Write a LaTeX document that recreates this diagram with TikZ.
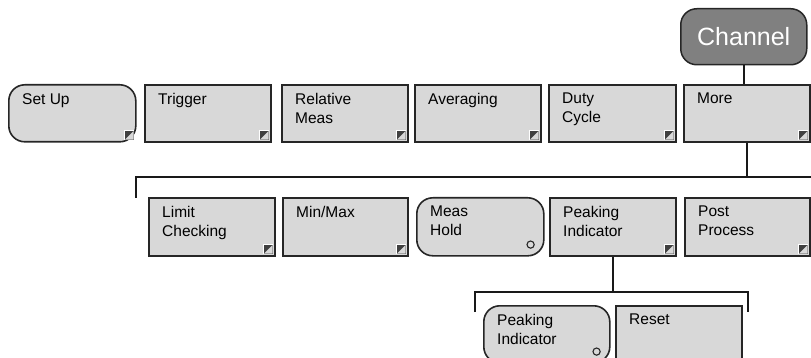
\documentclass[tikz,border=0pt]{standalone}
\usepackage{fontspec}
\setmainfont{Liberation Sans}
\definecolor{keygray}{RGB}{216,216,216}
\definecolor{chgray}{RGB}{128,128,128}
\definecolor{markdark}{RGB}{64,64,64}
\tikzset{
  keybox/.style={draw=black!85, line width=1.6pt, fill=keygray, rectangle, inner sep=0pt, anchor=north west},
  roundkey/.style={keybox, rounded corners=16pt},
  keytext/.style={inner sep=0pt, anchor=north west, align=left, font=\fontsize{15.5}{19}\selectfont},
  conn/.style={line width=1.5pt, black!90},
}
% #1 name, #2 left, #3 top, #4 right, #5 bottom, #6 style, #7 text
\newcommand\softkey[7]{%
  \node[#6, minimum width=#4pt-#2pt, minimum height=#5pt-#3pt] (#1) at (#2,#3) {};
  \node[keytext] (#1-t) at ([xshift=14pt,yshift=-9pt]#1.north west) {#7};
}
\newcommand\cornermark[1]{%
  \fill[white] ([xshift=-13pt,yshift=3pt]#1.south east) rectangle ([xshift=-3pt,yshift=13pt]#1.south east);
  \fill[markdark] ([xshift=-11.5pt,yshift=11.5pt]#1.south east) -- ([xshift=-3pt,yshift=11.5pt]#1.south east) -- ([xshift=-3pt,yshift=3pt]#1.south east) -- ([xshift=-11.5pt,yshift=3pt]#1.south east) -- cycle;
  \fill[keygray] ([xshift=-11.5pt,yshift=3pt]#1.south east) -- ([xshift=-3pt,yshift=3pt]#1.south east) -- ([xshift=-3pt,yshift=11.5pt]#1.south east) -- cycle;
}
\newcommand\ringmark[1]{%
  \draw[line width=1.1pt, black!85] ([xshift=-14pt,yshift=12pt]#1.south east) circle (3.6pt);
}
\begin{document}
\begin{tikzpicture}[x=1pt,y=-1pt]
\useasboundingbox (0,0) rectangle (811,358);
\clip (0,0) rectangle (811,358);
% Channel
\node[draw=black!85, line width=1.5pt, fill=chgray, rounded corners=16pt, inner sep=0pt,
      minimum width=126pt, minimum height=56pt, anchor=north west,
      text=white, font=\fontsize{25}{29}\selectfont] (channel) at (680,8) {Channel};
% top row
\softkey{setup}{8}{84}{135}{141}{roundkey}{Set Up}
\softkey{trigger}{144}{84}{270}{141}{keybox}{Trigger}
\softkey{relative}{281}{84}{407}{141}{keybox}{Relative\\Meas}
\softkey{averaging}{414}{84}{540}{141}{keybox}{Averaging}
\softkey{duty}{548}{84}{675}{141}{keybox}{Duty\\Cycle}
\softkey{more}{683}{84}{809}{141}{keybox}{More}
\cornermark{setup}\cornermark{trigger}\cornermark{relative}\cornermark{averaging}\cornermark{duty}\cornermark{more}
% second row
\softkey{limit}{148}{197}{274}{255}{keybox}{Limit\\Checking}
\softkey{minmax}{282}{197}{407}{255}{keybox}{Min/Max}
\softkey{meashold}{416}{197}{543}{255}{roundkey}{Meas\\Hold}
\softkey{peaking}{549}{197}{675}{255}{keybox}{Peaking\\Indicator}
\softkey{post}{684}{197}{809}{255}{keybox}{Post\\Process}
\cornermark{limit}\cornermark{minmax}\cornermark{peaking}\cornermark{post}
\ringmark{meashold}
% third row
\softkey{peakind}{483}{305}{609}{362}{roundkey}{Peaking\\Indicator}
\softkey{reset}{615}{305}{741}{362}{keybox}{Reset}
\ringmark{peakind}
% connectors
\coordinate (busA) at (136,177);
\coordinate (busAL) at (136,198);
\coordinate (busAR) at (815,177);
\coordinate (busB) at (475,292);
\coordinate (busBL) at (475,312);
\coordinate (busBR) at (748,292);
\coordinate (busBRd) at (748,312);
\draw[conn] (channel.south) -- (channel.south |- more.north);
\draw[conn] (more.south) -- (more.south |- busA);
\draw[conn] (busAL) -- (busA) -- (busAR);
\draw[conn] (peaking.south) -- (peaking.south |- busB);
\draw[conn] (busBL) -- (busB) -- (busBR) -- (busBRd);
\end{tikzpicture}
\end{document}
